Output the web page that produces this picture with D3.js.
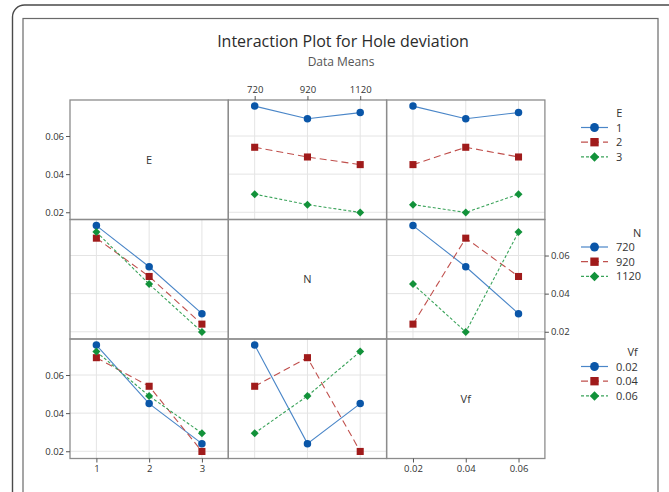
<!DOCTYPE html>
<html>
<head>
<meta charset="utf-8">
<script src="https://cdn.jsdelivr.net/npm/d3@7"></script>
<style>
  body { margin: 0; background: #fff; }
  svg { display: block; font-family: "Open Sans", "Noto Sans", sans-serif; }
</style>
</head>
<body>
<div id="chart"></div>
<script>
// factors and their levels
var factors = ["E", "N", "Vf"];
var levelsE = [1, 2, 3],
    levelsN = [720, 920, 1120],
    levelsVf = [0.02, 0.04, 0.06];
var levelLabels = [["1", "2", "3"], ["720", "920", "1120"], ["0.02", "0.04", "0.06"]];

// the nine runs (L9)
var runE  = [1, 1, 1, 2, 2, 2, 3, 3, 3];
var runN  = [720, 920, 1120, 720, 920, 1120, 720, 920, 1120];
var runVf = [0.02, 0.04, 0.06, 0.04, 0.06, 0.02, 0.06, 0.02, 0.04];
var holeDev = [0.0757, 0.0691, 0.0723, 0.0541, 0.0490, 0.0450, 0.0295, 0.0240, 0.0199];

var yTicks = [0.02, 0.04, 0.06];
var yTickLabels = ["0.02", "0.04", "0.06"];

var totalWidth = 669,
    totalHeight = 492,
    gridLeft = 70,
    gridTop = 100,
    cellW = 158.3,
    cellH = 119.5;

var levels = [levelsE, levelsN, levelsVf];
var runCols = [runE, runN, runVf];

var colors = {
  marker: ["#0a56a8", "#a01b1b", "#12923a"],
  line:   ["#4a86c8", "#c0504d", "#3aa35a"],
  dash:   [null, "7,4", "3,2"]
};

var svg = d3.select("#chart").append("svg")
    .attr("width", totalWidth)
    .attr("height", totalHeight);

svg.append("rect").attr("width", totalWidth).attr("height", totalHeight).attr("fill", "#fff");

// frames around the figure
svg.append("rect")
    .attr("x", 12.5).attr("y", 5).attr("width", 670).attr("height", 520)
    .attr("rx", 12).attr("fill", "none").attr("stroke", "#4a4a4a").attr("stroke-width", 1.4);
svg.append("rect")
    .attr("x", 23).attr("y", 18.5).attr("width", 635).attr("height", 500)
    .attr("fill", "none").attr("stroke", "#6a6a6a").attr("stroke-width", 1.2);

svg.append("text")
    .attr("x", 343).attr("y", 47)
    .attr("text-anchor", "middle")
    .attr("font-size", 16)
    .attr("fill", "#2b2b2b")
    .text("Interaction Plot for Hole deviation");
svg.append("text")
    .attr("x", 341).attr("y", 66)
    .attr("text-anchor", "middle")
    .attr("font-size", 12)
    .attr("fill", "#555")
    .text("Data Means");

var yScale = d3.scaleLinear().domain([0.0162, 0.0789]);

function xScaleFor(j) {
  return d3.scalePoint().domain(levels[j]).range([0, cellW]).padding(0.5);
}

function meanOf(fi, a, fj, b) {
  var vals = holeDev.filter(function(v, k) {
    return runCols[fi][k] === a && runCols[fj][k] === b;
  });
  return d3.mean(vals);
}

// circle, square, diamond (a square turned 45 degrees)
var symbols = [d3.symbolCircle, d3.symbolSquare, d3.symbolSquare];
var symSizes = [44, 50, 32];
var symRotate = [0, 0, 45];

for (var i = 0; i < 3; i++) {
  for (var j = 0; j < 3; j++) {
    var g = svg.append("g")
        .attr("transform", "translate(" + (gridLeft + j * cellW) + "," + (gridTop + i * cellH) + ")");
    if (i === j) {
      g.append("text")
          .attr("x", cellW / 2).attr("y", cellH / 2 + 4)
          .attr("text-anchor", "middle")
          .attr("font-size", 11)
          .attr("fill", "#333")
          .text(factors[i]);
      continue;
    }
    var x = xScaleFor(j);
    var y = yScale.copy().range([cellH, 0]);

    // gridlines
    g.selectAll(".vg").data(levels[j]).enter().append("line")
        .attr("x1", function(d) { return x(d); }).attr("x2", function(d) { return x(d); })
        .attr("y1", 0).attr("y2", cellH)
        .attr("stroke", "#e4e4e4").attr("stroke-width", 1);
    g.selectAll(".hg").data(yTicks).enter().append("line")
        .attr("x1", 0).attr("x2", cellW)
        .attr("y1", function(d) { return y(d); }).attr("y2", function(d) { return y(d); })
        .attr("stroke", "#e4e4e4").attr("stroke-width", 1);

    levels[i].forEach(function(a, s) {
      var pts = levels[j].map(function(b) { return [b, meanOf(i, a, j, b)]; });
      g.append("path")
          .datum(pts)
          .attr("fill", "none")
          .attr("stroke", colors.line[s])
          .attr("stroke-width", 1.1)
          .attr("stroke-dasharray", colors.dash[s])
          .attr("d", d3.line().x(function(d) { return x(d[0]); }).y(function(d) { return y(d[1]); }));
      g.selectAll(".m" + s).data(pts).enter().append("path")
          .attr("transform", function(d) {
            return "translate(" + x(d[0]) + "," + y(d[1]) + ") rotate(" + symRotate[s] + ")";
          })
          .attr("d", d3.symbol().type(symbols[s]).size(symSizes[s]))
          .attr("fill", colors.marker[s]);
    });
  }
}

// panel borders
for (var i2 = 0; i2 < 3; i2++) {
  for (var j2 = 0; j2 < 3; j2++) {
    svg.append("rect")
        .attr("x", gridLeft + j2 * cellW).attr("y", gridTop + i2 * cellH)
        .attr("width", cellW).attr("height", cellH)
        .attr("fill", "none").attr("stroke", "#8c8c8c").attr("stroke-width", 1.3);
  }
}

// axes
function yAxisFor(row, right) {
  var y = yScale.copy().range([gridTop + (row + 1) * cellH, gridTop + row * cellH]);
  var ax = (right ? d3.axisRight(y) : d3.axisLeft(y))
      .tickValues(yTicks)
      .tickFormat(function(d, k) { return yTickLabels[k]; })
      .tickSize(4).tickPadding(2);
  var gx = svg.append("g")
      .attr("transform", "translate(" + (right ? gridLeft + 3 * cellW : gridLeft) + ",0)")
      .call(ax);
  styleAxis(gx);
}

function xAxisFor(col, atTop) {
  var x = xScaleFor(col).range([gridLeft + col * cellW, gridLeft + (col + 1) * cellW]);
  var ax = (atTop ? d3.axisTop(x) : d3.axisBottom(x))
      .tickFormat(function(d, k) { return levelLabels[col][k]; })
      .tickSize(4).tickPadding(3);
  var gx = svg.append("g")
      .attr("transform", "translate(0," + (atTop ? gridTop : gridTop + 3 * cellH) + ")")
      .call(ax);
  styleAxis(gx);
}

function styleAxis(gx) {
  gx.select(".domain").remove();
  gx.selectAll(".tick line").attr("stroke", "#555");
  gx.selectAll(".tick text").attr("fill", "#333").attr("font-size", 9.5)
      .attr("font-family", "'Open Sans', sans-serif");
}

yAxisFor(0, false);
yAxisFor(1, true);
yAxisFor(2, false);
xAxisFor(1, true);
xAxisFor(0, false);
xAxisFor(2, false);

// legends
var legX = 581, legLen = 27, labelX = 616;
for (var r = 0; r < 3; r++) {
  var rowTop = gridTop + r * cellH;
  var lg = svg.append("g").attr("transform", "translate(0," + rowTop + ")");
  var items = lg.selectAll(".item").data(levelLabels[r]).enter().append("g")
      .attr("transform", function(d, k) { return "translate(0," + (27.5 + k * 14.7) + ")"; });
  items.append("line")
      .attr("x1", legX).attr("x2", legX + legLen)
      .attr("stroke", function(d, k) { return colors.line[k]; })
      .attr("stroke-width", 1.2)
      .attr("stroke-dasharray", function(d, k) { return colors.dash[k]; });
  items.append("path")
      .attr("transform", function(d, k) { return "translate(" + (legX + legLen / 2) + ",0) rotate(" + symRotate[k] + ")"; })
      .attr("d", function(d, k) { return d3.symbol().type(symbols[k]).size(symSizes[k] * 1.4)(); })
      .attr("fill", function(d, k) { return colors.marker[k]; });
  var labels = items.append("text")
      .attr("x", labelX).attr("y", 4)
      .attr("font-size", 11)
      .attr("fill", "#333")
      .text(function(d) { return d; });
  var maxW = d3.max(labels.nodes(), function(n) { return n.getComputedTextLength(); });
  lg.append("text")
      .attr("x", labelX + maxW).attr("y", 17)
      .attr("text-anchor", "end")
      .attr("font-size", 11)
      .attr("fill", "#333")
      .text(factors[r]);
}
</script>
</body>
</html>
